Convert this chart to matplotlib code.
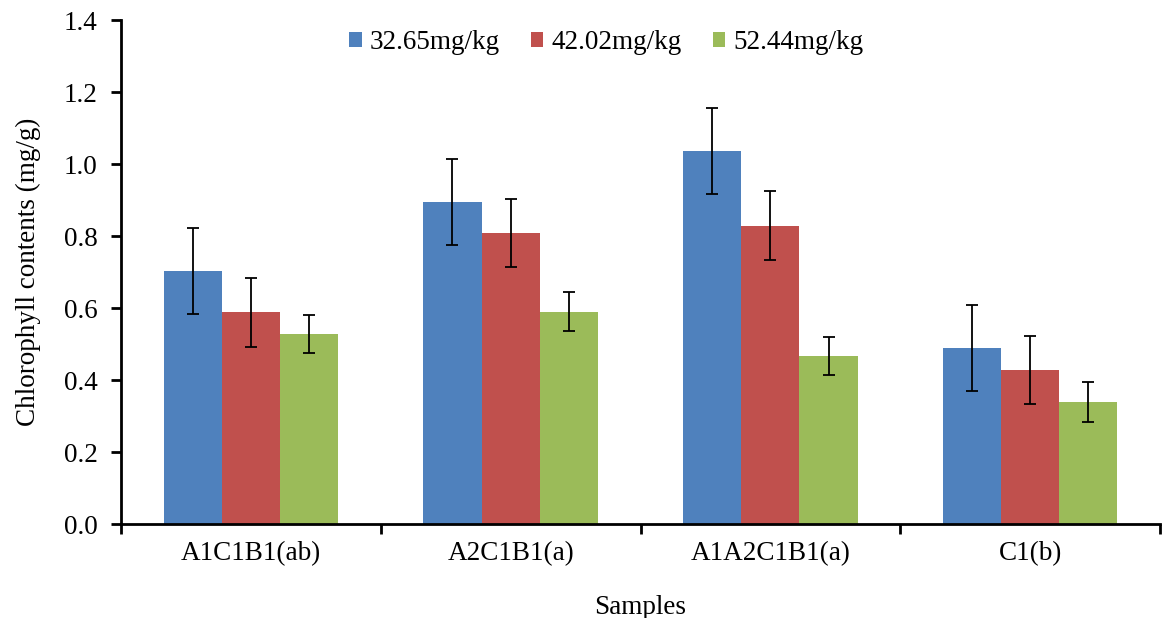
import matplotlib
matplotlib.use("Agg")
import matplotlib.pyplot as plt
import numpy as np

plt.rcParams['font.family'] = ['Liberation Serif', 'DejaVu Serif']

samples = ['A1C1B1(ab)', 'A2C1B1(a)', 'A1A2C1B1(a)', 'C1(b)']
series = ['32.65mg/kg', '42.02mg/kg', '52.44mg/kg']
colors = ['#4f81bd', '#c0504d', '#9bbb59']

# chlorophyll means and error bars per dose
means = [
    [0.703, 0.894, 1.036, 0.489],
    [0.588, 0.808, 0.828, 0.428],
    [0.528, 0.590, 0.467, 0.339],
]
errs = [
    [0.119, 0.120, 0.120, 0.119],
    [0.096, 0.095, 0.096, 0.095],
    [0.053, 0.054, 0.053, 0.055],
]

fs = 19.5
fig = plt.figure(figsize=(11.65, 6.18), dpi=100)
ax = fig.add_axes([121/1165, 1-524/618, (1160-121)/1165, (524-20)/618])

x = np.arange(len(samples))
w = 0.224
for i in range(3):
    ax.bar(x + (i-1)*w, means[i], w, color=colors[i], label=series[i],
           yerr=errs[i], capsize=4, error_kw=dict(ecolor='black', elinewidth=1.3, capthick=1.3))

ax.set_xlim(-0.5, 3.5)
ax.set_ylim(0, 1.4)
ax.set_yticks(np.arange(0, 1.41, 0.2))
ax.set_yticklabels(['%.1f' % v for v in np.arange(0, 1.41, 0.2)], fontsize=fs)
ax.set_xticks(np.arange(-0.5, 3.6, 1))
ax.set_xticklabels([])
ax.set_xticks(x, minor=True)
ax.set_xticklabels(samples, minor=True, fontsize=fs)
ax.tick_params(axis='x', which='minor', length=0, pad=12)
ax.tick_params(axis='x', which='major', length=7, width=2, direction='out')
ax.tick_params(axis='y', length=7, width=2, direction='out', pad=10)
for s in ['top', 'right']:
    ax.spines[s].set_visible(False)
for s in ['left', 'bottom']:
    ax.spines[s].set_linewidth(2)

ax.set_ylabel('Chlorophyll contents (mg/g)', fontsize=fs, labelpad=16)
ax.set_xlabel('Samples', fontsize=fs, labelpad=21)

ax.legend(loc='upper center', bbox_to_anchor=(0.467, 1.028), ncol=3, frameon=False, fontsize=fs,
          handlelength=0.45, handleheight=0.45, handletextpad=0.3, columnspacing=1.15)

fig.savefig('out.png', dpi=100)
